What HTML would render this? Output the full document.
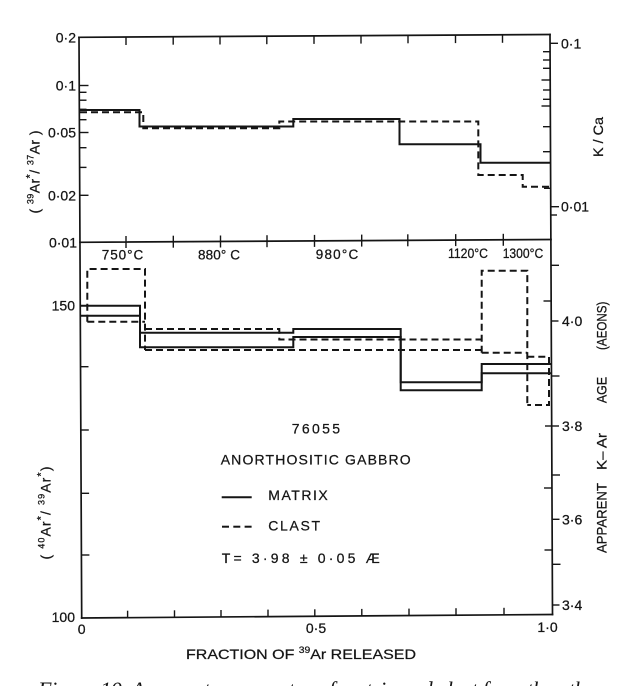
<!DOCTYPE html>
<html>
<head>
<meta charset="utf-8">
<style>
  html,body{margin:0;padding:0;background:#fff;}
  svg{display:block;}
  text{font-family:"Liberation Sans",Arial,sans-serif;fill:#151515;stroke:#151515;stroke-width:0.25;}
</style>
</head>
<body>
<svg width="627" height="686" viewBox="0 0 627 686" xmlns="http://www.w3.org/2000/svg">
  <rect width="627" height="686" fill="#fff"/>

  <!-- Frame -->
  <g stroke="#151515" stroke-width="1.7" fill="none" stroke-linecap="square">
    <line x1="79" y1="37.3" x2="550" y2="34.5"/>
    <line x1="80" y1="242.3" x2="551" y2="239.5"/>
    <line x1="81.7" y1="618" x2="552.5" y2="614.5"/>
    <line x1="79" y1="37.3" x2="81.7" y2="618"/>
    <line x1="550" y1="34.5" x2="552.5" y2="614.5"/>
  </g>

  <!-- Ticks -->
  <g stroke="#151515" stroke-width="1.4" fill="none">
    <line x1="126" y1="37" x2="126" y2="45"/>
    <line x1="173.2" y1="36.7" x2="173.2" y2="44.7"/>
    <line x1="220" y1="36.5" x2="220" y2="44.5"/>
    <line x1="266.8" y1="36.2" x2="266.8" y2="44.2"/>
    <line x1="314" y1="35.9" x2="314" y2="43.9"/>
    <line x1="361" y1="35.6" x2="361" y2="43.6"/>
    <line x1="408" y1="35.3" x2="408" y2="43.3"/>
    <line x1="455.5" y1="35.1" x2="455.5" y2="43.1"/>
    <line x1="502.5" y1="34.8" x2="502.5" y2="42.8"/>

    <line x1="126" y1="236" x2="126" y2="248"/>
    <line x1="173.3" y1="235.7" x2="173.3" y2="247.7"/>
    <line x1="220.5" y1="235.5" x2="220.5" y2="247.5"/>
    <line x1="267" y1="235.2" x2="267" y2="247.2"/>
    <line x1="314.5" y1="234.9" x2="314.5" y2="246.9"/>
    <line x1="361.7" y1="234.6" x2="361.7" y2="246.6"/>
    <line x1="407.8" y1="234.3" x2="407.8" y2="246.3"/>
    <line x1="455.7" y1="234.1" x2="455.7" y2="246.1"/>
    <line x1="503.3" y1="233.8" x2="503.3" y2="245.8"/>

    <line x1="127.6" y1="610.7" x2="127.6" y2="617.7"/>
    <line x1="174.5" y1="610.3" x2="174.5" y2="617.3"/>
    <line x1="221" y1="610" x2="221" y2="617"/>
    <line x1="268" y1="609.6" x2="268" y2="616.6"/>
    <line x1="314.8" y1="609.3" x2="314.8" y2="616.3"/>
    <line x1="361.8" y1="608.9" x2="361.8" y2="615.9"/>
    <line x1="409" y1="608.6" x2="409" y2="615.6"/>
    <line x1="456" y1="608.2" x2="456" y2="615.2"/>
    <line x1="504" y1="607.8" x2="504" y2="614.8"/>

    <line x1="79.2" y1="85.5" x2="88.5" y2="85.5"/>
    <line x1="79.3" y1="92.3" x2="86.5" y2="92.3"/>
    <line x1="79.3" y1="100.2" x2="86.5" y2="100.2"/>
    <line x1="79.3" y1="109.3" x2="86.5" y2="109.3"/>
    <line x1="79.4" y1="119.7" x2="86.5" y2="119.7"/>
    <line x1="79.4" y1="132.5" x2="88.5" y2="132.5"/>
    <line x1="79.5" y1="147.7" x2="86.5" y2="147.7"/>
    <line x1="79.6" y1="167.4" x2="86.5" y2="167.4"/>
    <line x1="79.7" y1="195.3" x2="88.5" y2="195.3"/>

    <line x1="550" y1="43.3" x2="558" y2="43.3"/>
    <line x1="543" y1="51.7" x2="550.1" y2="51.7"/>
    <line x1="543" y1="60" x2="550.1" y2="60"/>
    <line x1="543" y1="68.3" x2="550.1" y2="68.3"/>
    <line x1="541.5" y1="80" x2="550.2" y2="80"/>
    <line x1="543" y1="90" x2="550.2" y2="90"/>
    <line x1="543" y1="99.3" x2="550.3" y2="99.3"/>
    <line x1="541.5" y1="106" x2="550.3" y2="106"/>
    <line x1="543" y1="126.7" x2="550.4" y2="126.7"/>
    <line x1="543" y1="151.7" x2="550.5" y2="151.7"/>
    <line x1="544" y1="188.3" x2="550.7" y2="188.3"/>
    <line x1="550.7" y1="206.7" x2="559" y2="206.7"/>
    <line x1="550.8" y1="215" x2="557" y2="215"/>

    <line x1="80.5" y1="366.7" x2="88.5" y2="366.7"/>
    <line x1="80.8" y1="430" x2="88.8" y2="430"/>
    <line x1="81.1" y1="493.3" x2="89.1" y2="493.3"/>
    <line x1="81.4" y1="555" x2="89.4" y2="555"/>

    <line x1="551" y1="265.3" x2="559" y2="265.3"/>
    <line x1="543.5" y1="301" x2="551.2" y2="301"/>
    <line x1="551.2" y1="321" x2="558.5" y2="321"/>
    <line x1="551.4" y1="376" x2="559.5" y2="376"/>
    <line x1="545" y1="426" x2="559" y2="426"/>
    <line x1="551.9" y1="475" x2="560" y2="475"/>
    <line x1="544" y1="488" x2="552" y2="488"/>
    <line x1="552" y1="519.3" x2="559.5" y2="519.3"/>
    <line x1="544.5" y1="550" x2="552.2" y2="550"/>
    <line x1="552.3" y1="564.3" x2="560.5" y2="564.3"/>
    <line x1="552.4" y1="605" x2="559.5" y2="605"/>
  </g>

  <!-- Top panel data -->
  <g fill="none" stroke="#151515" stroke-width="2">
    <path d="M80,110 H139.5 V126.5 H293.3 V119 H399.5 V144.3 H480.5 V162.7 H550.3"/>
  </g>
  <g fill="none" stroke="#151515" stroke-width="2" stroke-dasharray="7 4">
    <path d="M80,112.3 H143.3 V128.3 H279.3 V121.5 H478.3 V175 H522.7 V186.7 H550.3"/>
  </g>

  <!-- Bottom panel data: matrix (solid) -->
  <g fill="none" stroke="#151515" stroke-width="2">
    <path d="M80.3,305.7 H140 V332.7 H293.3 V329 H400.7 V382.3 H481.7 V364 H551"/>
    <path d="M80.3,315.7 H140 V347.3 H293.3 V337 H400.7 V390.3 H481.7 V373.3 H551"/>
  </g>
  <!-- Bottom panel data: clast (dashed) -->
  <g fill="none" stroke="#151515" stroke-width="2" stroke-dasharray="7 4">
    <path d="M87.3,321.7 V269 H145 V350"/>
    <path d="M87.3,321.7 H145"/>
    <path d="M145,329 H279.3 V339.5 H481.7"/>
    <path d="M145,350 H481.7"/>
    <path d="M481.7,352.7 V270.7 H527.3 V405"/>
    <path d="M481.7,352.7 H527.3"/>
    <path d="M527.3,356.7 H549 V405 H527.3"/>
  </g>

  <!-- Left tick labels -->
  <g font-size="14" text-anchor="end">
    <text x="76" y="42.3">0·2</text>
    <text x="76" y="90.7">0·1</text>
    <text x="76" y="137.7">0·05</text>
    <text x="76" y="200.7">0·02</text>
    <text x="77" y="247.3">0·01</text>
    <text x="75" y="310.7">150</text>
    <text x="75" y="622">100</text>
  </g>

  <!-- Right tick labels -->
  <g font-size="14">
    <text x="561" y="48.3">0·1</text>
    <text x="561" y="211.7">0·01</text>
    <text x="562" y="326">4·0</text>
    <text x="562" y="431">3·8</text>
    <text x="562" y="524.3">3·6</text>
    <text x="562" y="610">3·4</text>
  </g>

  <!-- X tick labels -->
  <g font-size="14" text-anchor="middle">
    <text x="81.7" y="634">0</text>
    <text x="316" y="633">0·5</text>
    <text x="547.5" y="632">1·0</text>
  </g>

  <!-- Temperature labels -->
  <g font-size="13.5">
    <text x="101.7" y="259.5" textLength="41.6" lengthAdjust="spacing">750°C</text>
    <text x="198" y="259.3" textLength="42" lengthAdjust="spacing">880° C</text>
    <text x="315.7" y="258.8" textLength="42.6" lengthAdjust="spacing">980°C</text>
    <text x="448" y="258" textLength="40" lengthAdjust="spacingAndGlyphs">1120°C</text>
    <text x="502.7" y="257.8" textLength="40.6" lengthAdjust="spacingAndGlyphs">1300°C</text>
  </g>

  <!-- Axis titles -->
  <text font-size="14" text-anchor="middle" transform="translate(34.5,172) rotate(-90)" y="5" textLength="83" lengthAdjust="spacing">( <tspan font-size="9" dy="-6">39</tspan><tspan dy="6">Ar</tspan><tspan font-size="11" dy="-6">*</tspan><tspan dy="6">/ </tspan><tspan font-size="9" dy="-6">37</tspan><tspan dy="6">Ar )</tspan></text>

  <text font-size="14" text-anchor="middle" transform="translate(45.5,513) rotate(-90)" y="5" textLength="93" lengthAdjust="spacing">( <tspan font-size="9" dy="-6">40</tspan><tspan dy="6">Ar</tspan><tspan font-size="11" dy="-6">*</tspan><tspan dy="6">/ </tspan><tspan font-size="9" dy="-6">39</tspan><tspan dy="6">Ar</tspan><tspan font-size="11" dy="-6">*</tspan><tspan dy="6">)</tspan></text>

  <text font-size="14" text-anchor="middle" transform="translate(598,137) rotate(-90)" y="5" textLength="40" lengthAdjust="spacingAndGlyphs">K / Ca</text>

  <g font-size="14" text-anchor="middle">
    <text transform="translate(601.7,325.8) rotate(-90)" y="5" textLength="48.3" lengthAdjust="spacingAndGlyphs">(AEONS)</text>
    <text transform="translate(601.7,390) rotate(-90)" y="5" textLength="26.3" lengthAdjust="spacingAndGlyphs">AGE</text>
    <text transform="translate(601.7,451.5) rotate(-90)" y="5" textLength="37" lengthAdjust="spacingAndGlyphs">K– Ar</text>
    <text transform="translate(601.7,518) rotate(-90)" y="5" textLength="70" lengthAdjust="spacingAndGlyphs">APPARENT</text>
  </g>

  <text font-size="14" x="186" y="659" textLength="230" lengthAdjust="spacingAndGlyphs">FRACTION  OF  <tspan font-size="9" dy="-6">39</tspan><tspan dy="6">Ar   RELEASED</tspan></text>

  <!-- Annotation block -->
  <g font-size="14">
    <text x="291.7" y="433.3" textLength="48.3" lengthAdjust="spacing">76055</text>
    <text x="220.7" y="464.3" textLength="190" lengthAdjust="spacing">ANORTHOSITIC   GABBRO</text>
    <text x="268.3" y="500" textLength="59.4" lengthAdjust="spacing">MATRIX</text>
    <text x="268.3" y="530.7" textLength="51.7" lengthAdjust="spacing">CLAST</text>
    <text x="221.7" y="563" textLength="158" lengthAdjust="spacing">T= 3·98 ± 0·05  Æ</text>
  </g>
  <line x1="221.7" y1="497.3" x2="251.7" y2="497.3" stroke="#151515" stroke-width="2"/>
  <g stroke="#151515" stroke-width="2">
    <line x1="222" y1="526.7" x2="229" y2="526.7"/>
    <line x1="233.3" y1="526.7" x2="240.3" y2="526.7"/>
    <line x1="244.6" y1="526.7" x2="251.6" y2="526.7"/>
  </g>

  <!-- Caption (mostly cut off) -->
  <text x="38" y="697" font-size="22" textLength="565" lengthAdjust="spacing" style="font-family:'Liberation Serif',serif;font-style:italic;stroke:none">Figure 10.  Apparent  age  spectra  of  matrix  and  clast  from  the  other</text>
</svg>
</body>
</html>
